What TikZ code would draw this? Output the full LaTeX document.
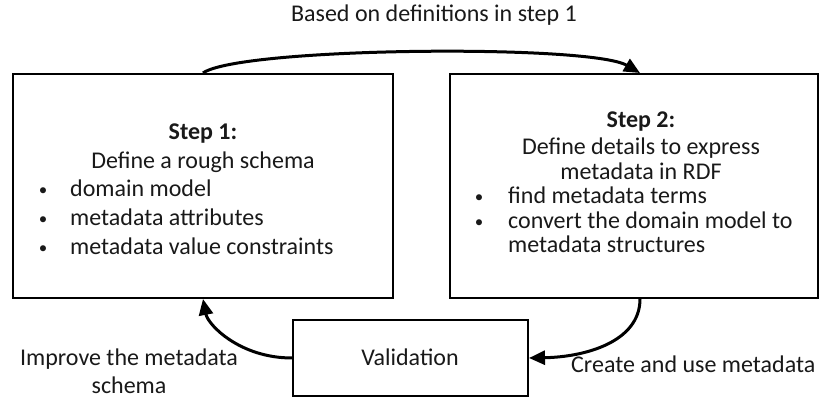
\documentclass[tikz,border=0pt]{standalone}
\usepackage{fontspec}
\setmainfont{Carlito}
\usetikzlibrary{arrows.meta}
\begin{document}
\begin{tikzpicture}[x=1pt,y=-1pt,
  box/.style={draw=black,line width=2pt,inner sep=0pt},
  txt/.style={font=\fontsize{24}{28}\selectfont,inner sep=0pt,text=black!90},
  bul/.style={font=\fontsize{17}{20}\selectfont,inner sep=0pt,text=black!90,anchor=base},
  flow/.style={line width=3pt,-{Triangle[length=16pt,width=14pt]}},
  plain/.style={line width=3pt}]
\useasboundingbox (0,0) rectangle (820,398);
% boxes
\node[box,minimum width=380pt,minimum height=224pt] (s1) at (203,186) {};
\node[box,minimum width=368pt,minimum height=224pt] (s2) at (634,186) {};
\node[box,minimum width=235pt,minimum height=76pt] (val) at (410.5,358) {};
% step 1 text
\node[txt,anchor=base,font=\fontsize{24}{28}\selectfont\bfseries] (t1a) at (203,140) {Step 1:};
\node[txt,anchor=base] (t1b) at (203,169) {Define a rough schema};
\node[bul] (b1a) at (43,196) {•};
\node[txt,anchor=base west] (t1c) at (70,197) {domain model};
\node[bul] (b1b) at (43,225) {•};
\node[txt,anchor=base west] (t1d) at (70,226) {metadata attributes};
\node[bul] (b1c) at (43,254) {•};
\node[txt,anchor=base west] (t1e) at (70,255) {metadata value constraints};
% step 2 text
\node[txt,anchor=base,font=\fontsize{24}{28}\selectfont\bfseries] (t2a) at (641,128) {Step 2:};
\node[txt,anchor=base] (t2b) at (641,155) {Define details to express};
\node[txt,anchor=base] (t2c) at (641,180) {metadata in RDF};
\node[bul] (b2a) at (479,203) {•};
\node[txt,anchor=base west] (t2d) at (508,204) {find metadata terms};
\node[bul] (b2b) at (479,228) {•};
\node[txt,anchor=base west] (t2e) at (508,229) {convert the domain model to};
\node[txt,anchor=base west] (t2f) at (508,253) {metadata structures};
% validation
\node[txt,anchor=base] (vt) at (410,366) {Validation};
% labels
\node[txt,anchor=base] (lt) at (434,22) {Based on definitions in step 1};
\node[txt,anchor=base] (ll1) at (129,366) {Improve the metadata};
\node[txt,anchor=base] (ll2) at (129,393) {schema};
\node[txt,anchor=base west] (lr) at (571,372) {Create and use metadata};
% connectors
\coordinate (a1) at (s1.north -| 203,0);
\coordinate (a2) at (s2.north -| 640,0);
\coordinate (c1) at (s1.south -| 203,0);
\coordinate (c2) at (s2.south -| 640,0);
\draw[flow] (a1) .. controls (240,47) and (590,44) .. (a2);
\draw[flow] (val.west) .. controls (240,358) and (208,325) .. (c1);
\draw[flow] (c2) .. controls (640,342) and (585,357) .. (val.east);
\end{tikzpicture}
\end{document}
